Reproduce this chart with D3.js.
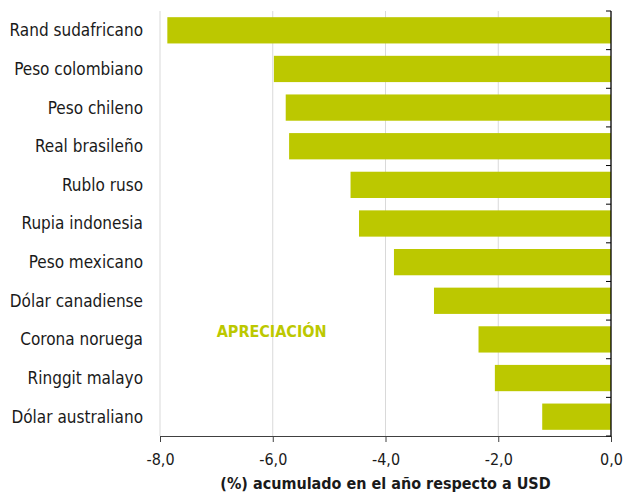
<!DOCTYPE html>
<html>
<head>
<meta charset="utf-8">
<script src="https://cdn.jsdelivr.net/npm/d3@7"></script>
<style>
  body { margin: 0; background: #fff; }
  svg text { font-family: "Liberation Sans Narrow", "DejaVu Sans Condensed", "Liberation Sans", sans-serif; }
</style>
</head>
<body>
<div id="chart"></div>
<script>
// data
var currencies = ["Rand sudafricano", "Peso colombiano", "Peso chileno", "Real brasileño",
  "Rublo ruso", "Rupia indonesia", "Peso mexicano", "Dólar canadiense",
  "Corona noruega", "Ringgit malayo", "Dólar australiano"];
var changes = [-7.87, -5.98, -5.77, -5.71, -4.62, -4.47, -3.85, -3.14, -2.35, -2.06, -1.22];
var xTicks = [-8, -6, -4, -2, 0];
var xTitle = "(%) acumulado en el año respecto a USD";
var note = "APRECIACIÓN";

var W = 627, H = 492;
var margin = {top: 11, right: 16, bottom: 56, left: 160};
var width = W - margin.left - margin.right;
var height = H - margin.top - margin.bottom;
var green = "#bcc800";

var svg = d3.select("#chart").append("svg")
  .attr("width", W).attr("height", H);
var g = svg.append("g")
  .attr("transform", "translate(" + margin.left + "," + margin.top + ")");

var x = d3.scaleLinear().domain([-8, 0]).range([0, width]);
var y = d3.scaleBand().domain(currencies).range([0, height]).paddingInner(0.32).paddingOuter(0.16);

// grid
g.append("g").selectAll("line")
  .data(xTicks.filter(function(d) { return d < 0; }))
  .enter().append("line")
  .attr("x1", function(d) { return x(d); })
  .attr("x2", function(d) { return x(d); })
  .attr("y1", 0).attr("y2", height)
  .style("stroke", "#d9d9d9").style("stroke-width", "1px");

// bars
g.append("g").selectAll("rect")
  .data(currencies)
  .enter().append("rect")
  .attr("x", function(d, i) { return x(changes[i]); })
  .attr("y", function(d) { return y(d); })
  .attr("width", function(d, i) { return x(0) - x(changes[i]); })
  .attr("height", y.bandwidth())
  .style("fill", green);

// x axis
var xAxis = g.append("g")
  .attr("transform", "translate(0," + height + ")")
  .call(d3.axisBottom(x).tickValues(xTicks).tickSize(6).tickSizeOuter(0)
    .tickFormat(function(d) { return d3.format(".1f")(d).replace(".", ",").replace("−", "-"); }));
xAxis.select(".domain").style("stroke", "#404040");
xAxis.selectAll(".tick line").style("stroke", "#404040");
xAxis.selectAll("text").attr("dy", "1.25em").style("font-size", "16px").style("fill", "#1a1a1a");

// zero axis with ticks between categories
var bounds = currencies.map(function(d) { return y(d) - y.step() * y.paddingInner() / 2; });
bounds.push(height);
bounds[0] = 0;
g.append("line")
  .attr("x1", x(0)).attr("x2", x(0)).attr("y1", 0).attr("y2", height)
  .style("stroke", "#000").style("stroke-width", "1.3px");
g.append("g").selectAll("line")
  .data(bounds)
  .enter().append("line")
  .attr("x1", x(0) - 5).attr("x2", x(0))
  .attr("y1", function(d) { return d; }).attr("y2", function(d) { return d; })
  .style("stroke", "#000");

// category labels
g.append("g").selectAll("text")
  .data(currencies)
  .enter().append("text")
  .attr("x", -17)
  .attr("y", function(d) { return y(d) + y.bandwidth() / 2; })
  .attr("dy", "0.35em")
  .attr("text-anchor", "end")
  .style("font-size", "17px")
  .style("fill", "#1a1a1a")
  .text(function(d) { return d; });

// note
g.append("text")
  .attr("x", x(-6.02))
  .attr("y", y("Corona noruega") + y.bandwidth() / 2 - 2)
  .attr("text-anchor", "middle")
  .style("font-size", "16px")
  .style("font-weight", "bold")
  .style("fill", green)
  .text(note);

// axis title
g.append("text")
  .attr("x", width / 2)
  .attr("y", height + 53)
  .attr("text-anchor", "middle")
  .style("font-size", "16px")
  .style("font-weight", "bold")
  .style("fill", "#1a1a1a")
  .text(xTitle);
</script>
</body>
</html>
